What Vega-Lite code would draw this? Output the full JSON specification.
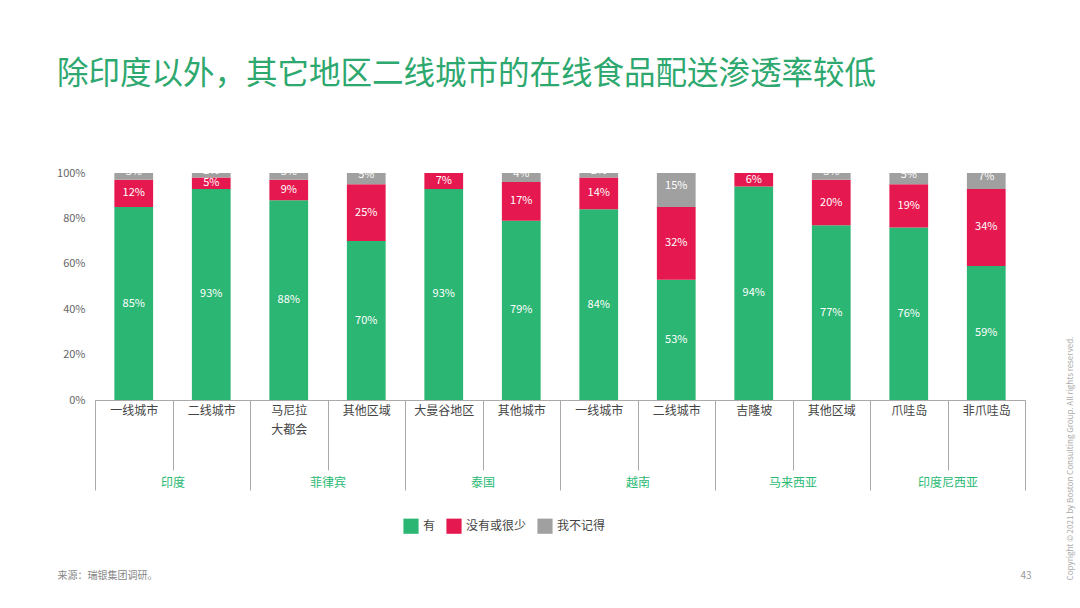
{
  "$schema": "https://vega.github.io/schema/vega-lite/v6.json",
  "width": 930,
  "height": 227,
  "autosize": {"type": "none"},
  "padding": {"left": 95, "top": 173, "right": 55, "bottom": 208},
  "background": "white",
  "config": {"font": "Noto Sans CJK SC", "view": {"stroke": null}},
  "title": {"text": "除印度以外，其它地区二线城市的在线食品配送渗透率较低", "anchor": "start", "frame": "group", "fontSize": 31.5, "fontWeight": "normal", "color": "#2DA86E", "dx": -38, "offset": 75},
  "resolve": {"scale": {"x": "independent"}},
  "layer": [
    {
      "data": {"values": [
        {"k": "印度·一线城市", "r": "有", "v": 0.85, "o": 1},
        {"k": "印度·一线城市", "r": "没有或很少", "v": 0.12, "o": 2},
        {"k": "印度·一线城市", "r": "我不记得", "v": 0.03, "o": 3},
        {"k": "印度·二线城市", "r": "有", "v": 0.93, "o": 1},
        {"k": "印度·二线城市", "r": "没有或很少", "v": 0.05, "o": 2},
        {"k": "印度·二线城市", "r": "我不记得", "v": 0.02, "o": 3},
        {"k": "菲律宾·马尼拉/大都会", "r": "有", "v": 0.88, "o": 1},
        {"k": "菲律宾·马尼拉/大都会", "r": "没有或很少", "v": 0.09, "o": 2},
        {"k": "菲律宾·马尼拉/大都会", "r": "我不记得", "v": 0.03, "o": 3},
        {"k": "菲律宾·其他区域", "r": "有", "v": 0.70, "o": 1},
        {"k": "菲律宾·其他区域", "r": "没有或很少", "v": 0.25, "o": 2},
        {"k": "菲律宾·其他区域", "r": "我不记得", "v": 0.05, "o": 3},
        {"k": "泰国·大曼谷地区", "r": "有", "v": 0.93, "o": 1},
        {"k": "泰国·大曼谷地区", "r": "没有或很少", "v": 0.07, "o": 2},
        {"k": "泰国·其他城市", "r": "有", "v": 0.79, "o": 1},
        {"k": "泰国·其他城市", "r": "没有或很少", "v": 0.17, "o": 2},
        {"k": "泰国·其他城市", "r": "我不记得", "v": 0.04, "o": 3},
        {"k": "越南·一线城市", "r": "有", "v": 0.84, "o": 1},
        {"k": "越南·一线城市", "r": "没有或很少", "v": 0.14, "o": 2},
        {"k": "越南·一线城市", "r": "我不记得", "v": 0.02, "o": 3},
        {"k": "越南·二线城市", "r": "有", "v": 0.53, "o": 1},
        {"k": "越南·二线城市", "r": "没有或很少", "v": 0.32, "o": 2},
        {"k": "越南·二线城市", "r": "我不记得", "v": 0.15, "o": 3},
        {"k": "马来西亚·吉隆坡", "r": "有", "v": 0.94, "o": 1},
        {"k": "马来西亚·吉隆坡", "r": "没有或很少", "v": 0.06, "o": 2},
        {"k": "马来西亚·其他区域", "r": "有", "v": 0.77, "o": 1},
        {"k": "马来西亚·其他区域", "r": "没有或很少", "v": 0.20, "o": 2},
        {"k": "马来西亚·其他区域", "r": "我不记得", "v": 0.03, "o": 3},
        {"k": "印度尼西亚·爪哇岛", "r": "有", "v": 0.76, "o": 1},
        {"k": "印度尼西亚·爪哇岛", "r": "没有或很少", "v": 0.19, "o": 2},
        {"k": "印度尼西亚·爪哇岛", "r": "我不记得", "v": 0.05, "o": 3},
        {"k": "印度尼西亚·非爪哇岛", "r": "有", "v": 0.59, "o": 1},
        {"k": "印度尼西亚·非爪哇岛", "r": "没有或很少", "v": 0.34, "o": 2},
        {"k": "印度尼西亚·非爪哇岛", "r": "我不记得", "v": 0.07, "o": 3}
      ]},
      "encoding": {
        "x": {"field": "k", "type": "nominal", "sort": null,
          "scale": {"type": "band", "paddingInner": 0, "paddingOuter": 0},
          "axis": {"orient": "bottom", "labelAngle": 0, "tickBand": "extent", "tickSize": 70, "tickColor": "#aaaaaa", "domainColor": "#aaaaaa",
            "labelBaseline": "top", "labelPadding": -65, "labelFontSize": 12, "labelColor": "#444444", "labelLineHeight": 19,
            "labelExpr": "isString(datum.value) ? split(split(datum.value, '·')[1], '/') : ''",
            "title": "43", "titleX": 925, "titleY": 175, "titleFontSize": 10, "titleColor": "#999999", "titleFontWeight": "normal", "titleAlign": "left", "titleBaseline": "middle"}},
        "y": {"field": "v", "type": "quantitative", "stack": "zero",
          "scale": {"domain": [0, 1]},
          "axis": {"values": [0, 0.2, 0.4, 0.6, 0.8, 1], "format": ".0%", "grid": false, "domain": false, "ticks": false, "labelPadding": 10, "labelFontSize": 11, "labelColor": "#666666",
            "title": "Copyright © 2021 by Boston Consulting Group. All rights reserved.", "titleAngle": 270, "titleX": 975, "titleY": 285, "titleFontSize": 8, "titleColor": "#aaaaaa", "titleFontWeight": "normal", "titleAlign": "center", "titleBaseline": "middle"}},
        "order": {"field": "o", "type": "quantitative"}
      },
      "layer": [
        {
          "mark": {"type": "bar", "width": {"band": 0.5}},
          "encoding": {
            "color": {"field": "r", "type": "nominal",
              "scale": {"domain": ["有", "没有或很少", "我不记得"], "range": ["#2BB673", "#E5194F", "#A0A0A0"]},
              "legend": {"orient": "none", "legendX": 308, "legendY": 345, "direction": "horizontal", "title": null, "symbolType": "square", "symbolSize": 230, "symbolStrokeWidth": 0, "labelFontSize": 12, "labelColor": "#444444", "columnPadding": 10}}
          }
        },
        {
          "mark": {"type": "text", "color": "white", "fontSize": 11},
          "encoding": {
            "y": {"field": "v", "type": "quantitative", "stack": "zero", "bandPosition": 0.5},
            "text": {"field": "v", "type": "quantitative", "format": ".0%", "condition": {"test": "datum.r === '我不记得'", "value": ""}}
          }
        },
        {
          "mark": {"type": "text", "color": "white", "fontSize": 11, "dy": -4},
          "encoding": {
            "y": {"field": "v", "type": "quantitative", "stack": "zero", "bandPosition": 0.5},
            "text": {"field": "v", "type": "quantitative", "format": ".0%", "condition": {"test": "datum.r !== '我不记得'", "value": ""}}
          }
        }
      ]
    },
    {
      "data": {"values": [
        {"country": "印度"}, {"country": "菲律宾"}, {"country": "泰国"}, {"country": "越南"}, {"country": "马来西亚"}, {"country": "印度尼西亚"}
      ]},
      "mark": {"type": "bar", "opacity": 0},
      "encoding": {
        "x": {"field": "country", "type": "nominal", "sort": null,
          "scale": {"type": "band", "paddingInner": 0, "paddingOuter": 0},
          "axis": {"orient": "bottom", "labelAngle": 0, "tickBand": "extent", "tickSize": 90, "tickColor": "#aaaaaa", "domain": false,
            "labelBaseline": "middle", "labelPadding": -8, "labelFontSize": 12, "labelColor": "#29BA74",
            "title": "来源：瑞银集团调研。", "titleX": -38, "titleY": 175, "titleFontSize": 10, "titleColor": "#888888", "titleFontWeight": "normal", "titleAlign": "left", "titleBaseline": "middle"}}
      }
    }
  ]
}
